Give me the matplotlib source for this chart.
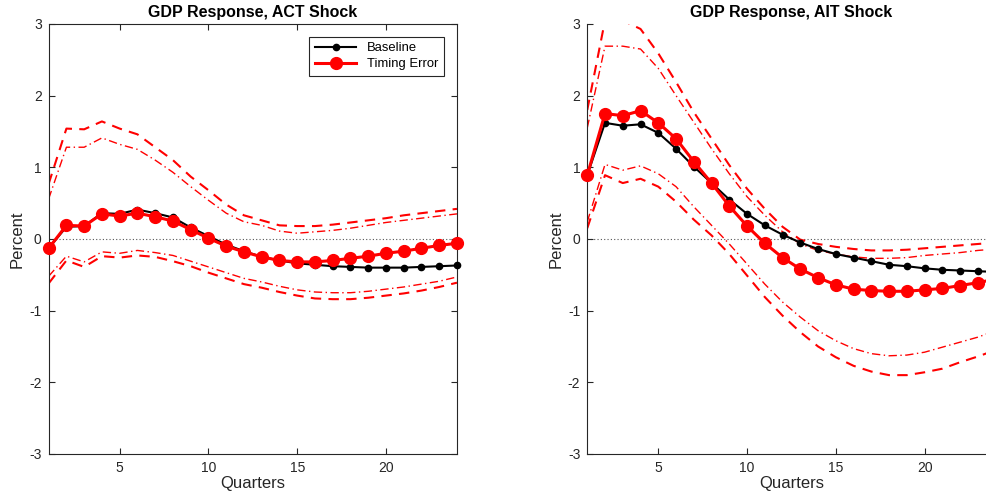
import numpy as np
import matplotlib
matplotlib.use("Agg")
import matplotlib.pyplot as plt

plt.rcParams["font.family"] = ["Liberation Sans", "DejaVu Sans"]
plt.rcParams["axes.unicode_minus"] = False

quarters = np.arange(1, 25)

# ACT shock
act_base = [-0.13, 0.17, 0.18, 0.36, 0.35, 0.41, 0.36, 0.30, 0.16, 0.04, -0.08, -0.17,
            -0.25, -0.30, -0.34, -0.36, -0.38, -0.39, -0.40, -0.40, -0.40, -0.39, -0.38, -0.37]
act_err = [-0.13, 0.19, 0.18, 0.35, 0.32, 0.36, 0.31, 0.25, 0.13, 0.01, -0.10, -0.18,
           -0.25, -0.30, -0.32, -0.32, -0.30, -0.27, -0.24, -0.20, -0.17, -0.13, -0.09, -0.06]
act_hi_dash = [0.77, 1.54, 1.53, 1.64, 1.54, 1.46, 1.28, 1.10, 0.87, 0.68, 0.48, 0.33,
               0.26, 0.19, 0.18, 0.18, 0.20, 0.23, 0.26, 0.29, 0.33, 0.36, 0.39, 0.42]
act_hi_dot = [0.56, 1.28, 1.28, 1.41, 1.32, 1.25, 1.10, 0.93, 0.73, 0.54, 0.36, 0.24,
              0.19, 0.11, 0.08, 0.10, 0.12, 0.15, 0.19, 0.23, 0.26, 0.29, 0.32, 0.35]
act_lo_dot = [-0.52, -0.24, -0.32, -0.18, -0.20, -0.16, -0.19, -0.23, -0.31, -0.39, -0.47, -0.55,
              -0.60, -0.66, -0.71, -0.74, -0.75, -0.75, -0.73, -0.70, -0.67, -0.63, -0.59, -0.53]
act_lo_dash = [-0.62, -0.30, -0.39, -0.24, -0.26, -0.23, -0.25, -0.31, -0.38, -0.47, -0.55, -0.63,
               -0.68, -0.74, -0.79, -0.83, -0.84, -0.84, -0.82, -0.79, -0.76, -0.72, -0.67, -0.61]

# AIT shock
ait_base = [0.89, 1.62, 1.58, 1.60, 1.48, 1.26, 1.01, 0.78, 0.55, 0.35, 0.19, 0.06,
            -0.05, -0.14, -0.21, -0.26, -0.31, -0.36, -0.38, -0.41, -0.43, -0.44, -0.45, -0.46]
ait_err = [0.89, 1.75, 1.72, 1.79, 1.62, 1.40, 1.08, 0.78, 0.46, 0.18, -0.06, -0.26,
           -0.42, -0.54, -0.64, -0.70, -0.72, -0.73, -0.73, -0.71, -0.69, -0.65, -0.61, -0.56]
ait_hi_dash = [1.80, 3.05, 3.05, 2.93, 2.59, 2.19, 1.77, 1.40, 1.03, 0.70, 0.42, 0.17,
               -0.01, -0.07, -0.11, -0.14, -0.16, -0.16, -0.15, -0.13, -0.11, -0.09, -0.07, -0.05]
ait_hi_dot = [1.55, 2.69, 2.69, 2.65, 2.38, 2.00, 1.63, 1.26, 0.91, 0.59, 0.33, 0.10,
              -0.07, -0.16, -0.21, -0.25, -0.27, -0.27, -0.26, -0.23, -0.21, -0.19, -0.16, -0.14]
ait_lo_dot = [0.24, 1.04, 0.96, 1.02, 0.91, 0.73, 0.45, 0.19, -0.07, -0.35, -0.63, -0.88,
              -1.09, -1.28, -1.42, -1.53, -1.60, -1.63, -1.62, -1.58, -1.51, -1.44, -1.37, -1.28]
ait_lo_dash = [0.15, 0.89, 0.78, 0.84, 0.73, 0.52, 0.27, 0.05, -0.21, -0.51, -0.81, -1.07,
               -1.30, -1.50, -1.65, -1.77, -1.85, -1.90, -1.90, -1.86, -1.81, -1.72, -1.64, -1.55]

titles = ["GDP Response, ACT Shock", "GDP Response, AIT Shock"]

fig = plt.figure(figsize=(9.87, 4.98), dpi=100)
ax1 = fig.add_axes([0.0493, 0.0884, 0.4137, 0.8635])
ax2 = fig.add_axes([0.595, 0.0884, 0.4137, 0.8635])

panels = [
    (ax1, act_base, act_err, act_hi_dash, act_hi_dot, act_lo_dot, act_lo_dash),
    (ax2, ait_base, ait_err, ait_hi_dash, ait_hi_dot, ait_lo_dot, ait_lo_dash),
]

dark = "#262626"
for i, (ax, base, err, hd, ht, lt, ld) in enumerate(panels):
    ax.axhline(0, color="#555555", lw=0.8, ls=(0, (1, 2)), zorder=1)
    ax.plot(quarters, hd, color="red", lw=1.5, ls=(0, (5, 3.5)), zorder=2)
    ax.plot(quarters, ld, color="red", lw=1.5, ls=(0, (5, 3.5)), zorder=2)
    ax.plot(quarters, ht, color="red", lw=1.0, ls=(0, (6, 2.5, 1, 2.5)), zorder=2)
    ax.plot(quarters, lt, color="red", lw=1.0, ls=(0, (6, 2.5, 1, 2.5)), zorder=2)
    ax.plot(quarters, base, color="black", lw=1.5, marker="o", ms=4.5,
            label="Baseline", zorder=3, clip_on=False)
    ax.plot(quarters, err, color="red", lw=2.2, marker="o", ms=8.5,
            label="Timing Error", zorder=4, clip_on=False)

    ax.set_xlim(1, 24)
    ax.set_ylim(-3, 3)
    ax.set_xticks([5, 10, 15, 20])
    ax.set_yticks([-3, -2, -1, 0, 1, 2, 3])
    ax.set_title(titles[i], fontsize=11.5, fontweight="bold", pad=5)
    ax.set_xlabel("Quarters", fontsize=12, color=dark, labelpad=1)
    ax.set_ylabel("Percent", fontsize=12, color=dark, labelpad=3)
    ax.tick_params(direction="in", length=4, width=0.8, labelsize=10,
                   colors=dark, pad=5)
    for s in ax.spines.values():
        s.set_color(dark)
        s.set_linewidth(0.8)

# left panel is boxed, right panel is open
ax1.tick_params(top=True, right=True)
ax2.spines["top"].set_visible(False)
ax2.spines["right"].set_visible(False)

leg = ax1.legend(loc="upper right", bbox_to_anchor=(0.983, 0.985), fontsize=9.4,
                 fancybox=False, framealpha=1, edgecolor=dark, handlelength=3.2,
                 borderpad=0.4, labelspacing=0.3)
leg.get_frame().set_linewidth(0.8)

fig.savefig("out.png", dpi=100)
